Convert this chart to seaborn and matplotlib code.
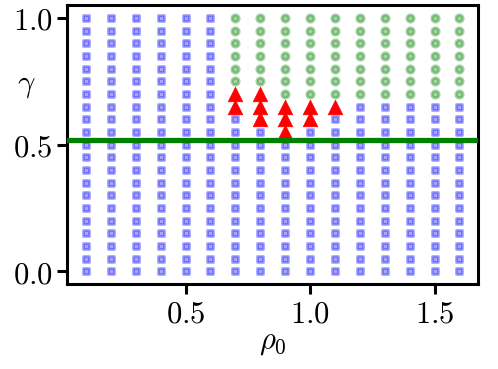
import matplotlib
matplotlib.use("Agg")
import matplotlib.pyplot as plt
import pandas as pd
import seaborn as sns

# grid of parameters scanned
rho0 = [0.1, 0.2, 0.3, 0.4, 0.5, 0.6, 0.7, 0.8, 0.9, 1.0, 1.1, 1.2, 1.3, 1.4, 1.5, 1.6]
gamma = [0.0, 0.05, 0.1, 0.15, 0.2, 0.25, 0.3, 0.35, 0.4, 0.45, 0.5,
         0.55, 0.6, 0.65, 0.7, 0.75, 0.8, 0.85, 0.9, 0.95, 1.0]

# lowest gamma where the circle phase starts, per rho0 column (None = never)
circle_start = [None, None, None, None, None, None,
                0.75, 0.75, 0.70, 0.70, 0.70, 0.70, 0.70, 0.70, 0.70, 0.70]

# triangle points
tri_rho = [0.7, 0.7, 0.8, 0.8, 0.8, 0.9, 0.9, 0.9, 1.0, 1.0, 1.1]
tri_gamma = [0.70, 0.65, 0.70, 0.65, 0.60, 0.65, 0.60, 0.55, 0.65, 0.60, 0.65]

gamma_c = 0.52

rows = []
tri_set = {(round(r, 2), round(g, 2)) for r, g in zip(tri_rho, tri_gamma)}
for r, start in zip(rho0, circle_start):
    for g in gamma:
        if (round(r, 2), round(g, 2)) in tri_set:
            phase = "tri"
        elif start is not None and g >= start - 1e-9:
            phase = "circ"
        else:
            phase = "sq"
        rows.append({"rho0": r, "gamma": g, "phase": phase})
df = pd.DataFrame(rows)

sns.set_style("ticks")
plt.rcParams["font.family"] = ["DejaVu Serif"]
plt.rcParams["mathtext.fontset"] = "cm"
plt.rcParams["axes.linewidth"] = 2.2
plt.rcParams["axes.edgecolor"] = "black"
plt.rcParams["text.color"] = "black"
plt.rcParams["axes.labelcolor"] = "black"
plt.rcParams["xtick.color"] = "black"
plt.rcParams["ytick.color"] = "black"
plt.rcParams["xtick.major.width"] = 2.2
plt.rcParams["ytick.major.width"] = 2.2
plt.rcParams["xtick.major.size"] = 7
plt.rcParams["ytick.major.size"] = 7

fig, ax = plt.subplots(figsize=(4.98, 3.69), dpi=100)
fig.subplots_adjust(left=0.135, right=0.96, bottom=0.23, top=0.986)

sq = df[df["phase"] == "sq"]
sns.scatterplot(data=sq, x="rho0", y="gamma", marker="s", color="blue",
                edgecolor="blue", alpha=0.35, s=20, linewidth=2.0, ax=ax)
circ = df[df["phase"] == "circ"]
sns.scatterplot(data=circ, x="rho0", y="gamma", marker="o", color="green",
                edgecolor="green", alpha=0.35, s=26, linewidth=2.2, ax=ax)
tri = df[df["phase"] == "tri"]
sns.scatterplot(data=tri, x="rho0", y="gamma", marker="^", color="red",
                edgecolor="red", s=110, linewidth=0.5, ax=ax)

ax.axhline(gamma_c, color="green", linewidth=3.8, zorder=3)

ax.set_xlim(0.025, 1.675)
ax.set_ylim(-0.05, 1.05)
xticks = [0.5, 1.0, 1.5]
yticks = [0.0, 0.5, 1.0]
ax.set_xticks(xticks)
ax.set_xticklabels([f"${v:.1f}$" for v in xticks], fontsize=22)
ax.set_yticks(yticks)
ax.set_yticklabels([f"${v:.1f}$" for v in yticks], fontsize=22)

ax.set_xlabel(r"$\rho_0$", fontsize=22, labelpad=-3)
ax.set_ylabel(r"$\gamma$", fontsize=22, rotation=0)
ax.yaxis.set_label_coords(-0.1, 0.66)

fig.savefig("out.png", dpi=100)
